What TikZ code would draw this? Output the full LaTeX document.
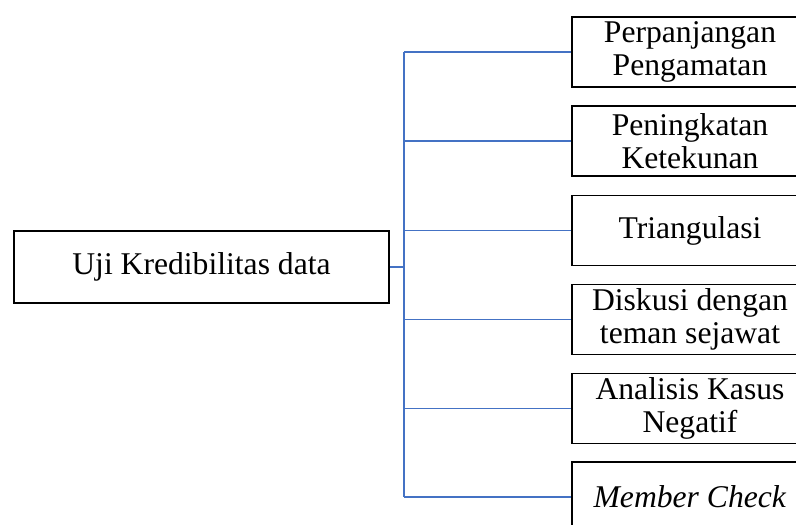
\documentclass[tikz,border=0pt]{standalone}
\usepackage{fontspec}
\setmainfont{Liberation Serif}
\definecolor{garisbiru}{RGB}{68,114,196}
\tikzset{
  kotak/.style={draw, line width=1.4pt, align=center, inner sep=0pt,
    font=\fontsize{27}{28}\selectfont},
  kanan/.style={kotak, minimum width=7.08cm, minimum height=2.1cm},
  garis/.style={garisbiru, line width=1.4pt}
}
\begin{document}
\begin{tikzpicture}[x=0.03cm,y=-0.03cm]
\useasboundingbox (0,0) rectangle (796,524);
\clip (0,0) rectangle (796,524);
\node[kotak, minimum width=11.25cm, minimum height=2.16cm] (uji) at (201.5,267) {Uji Kredibilitas data};
\node[kanan] (b1) at (690,52) {Perpanjangan\\Pengamatan};
\node[kanan] (b2) at (690,141) {Peningkatan\\Ketekunan};
\node[kanan] (b3) at (690,230.5) {Triangulasi};
\node[kanan] (b4) at (690,319.5) {Diskusi dengan\\teman sejawat};
\node[kanan] (b5) at (690,408.5) {Analisis Kasus\\Negatif};
\node[kanan] (b6) at (690,497) {\textit{Member Check}};
\coordinate (cabang) at (404,267);
\draw[garis] (uji.east) -- (cabang);
\draw[garis] (cabang |- b1.west) -- (cabang |- b6.west);
\foreach \i in {1,...,6}
  \draw[garis] (cabang |- b\i.west) -- (b\i.west);
\end{tikzpicture}
\end{document}
